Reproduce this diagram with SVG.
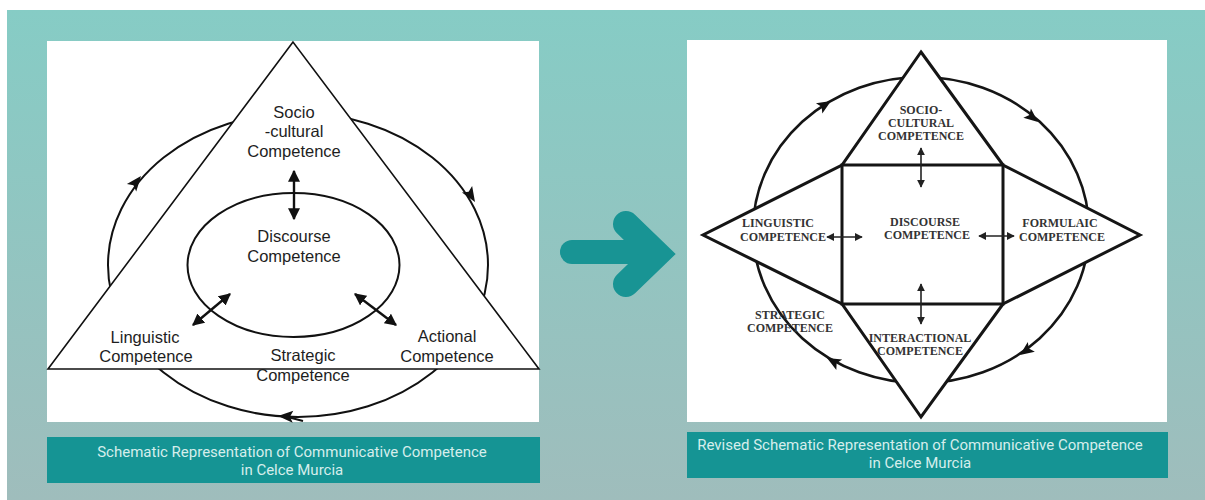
<svg xmlns="http://www.w3.org/2000/svg" width="1205" height="500" viewBox="0 0 1205 500">
  <defs>
    <linearGradient id="bg" x1="0" y1="0" x2="0" y2="1">
      <stop offset="0" stop-color="#86ccc5"/>
      <stop offset="1" stop-color="#9fbdbc"/>
    </linearGradient>
    <!-- arrowhead for the cycle loops, tip at origin pointing along +x -->
    <path id="loopHead" d="M0,0 L-15,-6 L-12,0 L-15,6 Z" fill="#111"/>
    <path id="loopHeadR" d="M0,0 L-14,-6 L-11,0 L-14,6 Z" fill="#111"/>
    <marker id="biL" viewBox="0 0 10 10" refX="9" refY="5" markerWidth="5" markerHeight="5" orient="auto-start-reverse" markerUnits="strokeWidth">
      <path d="M0,0 L10,5 L0,10 Z" fill="#111"/>
    </marker>
    <marker id="biR" viewBox="0 0 10 10" refX="9" refY="5" markerWidth="5" markerHeight="5" orient="auto-start-reverse" markerUnits="strokeWidth">
      <path d="M0,0 L10,5 L0,10 Z" fill="#222"/>
    </marker>
  </defs>
  <style>
    .panel { fill: #ffffff; }
    .cap { fill: #159494; }
    .capText { font-family: Roboto, "Liberation Sans", sans-serif; font-size: 15px; fill: #d6eeec; text-anchor: middle; }
    .lbl { font-family: "Liberation Sans", Arial, sans-serif; font-size: 16.5px; fill: #1e1e1e; text-anchor: middle; }
    .rl { font-family: "Liberation Serif", "Times New Roman", serif; font-weight: bold; font-size: 12px; fill: #333; text-anchor: middle; }
    .loop { fill: none; stroke: #111; stroke-width: 2; }
    .bi { stroke: #111; stroke-width: 2.4; marker-start: url(#biL); marker-end: url(#biL); }
    .rbi { stroke: #222; stroke-width: 1.6; marker-start: url(#biR); marker-end: url(#biR); }
    .heavy { stroke: #151515; stroke-width: 3; stroke-linejoin: miter; }
  </style>

  <!-- page background -->
  <rect x="0" y="0" width="1205" height="500" fill="#ffffff"/>
  <rect x="7" y="10" width="1198" height="490" fill="url(#bg)"/>

  <!-- ===== Left figure: original model ===== -->
  <g id="left-figure">
    <rect class="panel" x="47" y="41" width="492" height="381"/>

    <!-- outer cycle, partly hidden by the triangle -->
    <g id="left-cycle">
      <ellipse class="loop" cx="298" cy="265" rx="190" ry="152"/>
      <use href="#loopHead" transform="translate(141,176) rotate(-51)"/>
      <use href="#loopHead" transform="translate(475,202) rotate(58)"/>
      <use href="#loopHead" transform="translate(278,416) rotate(183)"/>
      <line x1="284" y1="416" x2="303" y2="421" stroke="#111" stroke-width="2"/>
    </g>

    <g id="node-sociocultural">
      <polygon points="293,42 48,369 539,369" fill="#ffffff" stroke="#111" stroke-width="1.6"/>
      <text class="lbl" x="294" y="118">Socio</text>
      <text class="lbl" x="294" y="137">-cultural</text>
      <text class="lbl" x="294" y="157">Competence</text>
    </g>

    <g id="node-discourse">
      <ellipse class="loop" cx="293.5" cy="265" rx="106" ry="72"/>
      <text class="lbl" x="294" y="242">Discourse</text>
      <text class="lbl" x="294" y="262">Competence</text>
    </g>

    <g id="node-linguistic">
      <text class="lbl" x="145" y="343">Linguistic</text>
      <text class="lbl" x="146" y="362">Competence</text>
    </g>

    <g id="node-strategic">
      <text class="lbl" x="303" y="361">Strategic</text>
      <text class="lbl" x="303" y="381">Competence</text>
    </g>

    <g id="node-actional">
      <text class="lbl" x="447" y="342">Actional</text>
      <text class="lbl" x="447" y="362">Competence</text>
    </g>

    <g id="left-connectors">
      <line class="bi" x1="193" y1="325" x2="230" y2="294"/>
      <line class="bi" x1="294" y1="171" x2="294" y2="219"/>
      <line class="bi" x1="355" y1="294" x2="396" y2="325"/>
    </g>

    <rect class="cap" x="47" y="437" width="493" height="46"/>
    <text class="capText" x="292" y="457">Schematic Representation of Communicative Competence</text>
    <text class="capText" x="292" y="475">in Celce Murcia</text>
  </g>

  <!-- ===== Transition arrow ===== -->
  <g id="transition-arrow" fill="none" stroke="#189494">
    <line x1="572" y1="252" x2="648" y2="252" stroke-width="24" stroke-linecap="round"/>
    <polyline points="626,224 657,254 626,284" stroke-width="26" stroke-linecap="round" stroke-linejoin="miter"/>
  </g>

  <!-- ===== Right figure: revised model ===== -->
  <g id="right-figure">
    <rect class="panel" x="687" y="40" width="480" height="382"/>

    <g id="right-cycle">
      <ellipse cx="921" cy="230" rx="168" ry="153" fill="none" stroke="#151515" stroke-width="2.6"/>
      <use href="#loopHeadR" transform="translate(831,101) rotate(-32)"/>
      <use href="#loopHeadR" transform="translate(1038,122) rotate(39)"/>
      <use href="#loopHeadR" transform="translate(1020,355) rotate(144)"/>
      <use href="#loopHeadR" transform="translate(827,358) rotate(209)"/>
    </g>

    <!-- star outline made of four triangles around the central square -->
    <g id="node-outline">
      <polygon class="heavy" fill="#ffffff" points="921,52 1003,165 1140,235 1003,304 921,417 842,304 703,235 842,165"/>
    </g>

    <g id="node-discourse-r">
      <rect class="heavy" x="842" y="165" width="161" height="139" fill="none"/>
      <text class="rl" x="925" y="226">DISCOURSE</text>
      <text class="rl" x="927" y="239">COMPETENCE</text>
    </g>

    <g id="node-sociocultural-r">
      <text class="rl" x="921" y="114">SOCIO-</text>
      <text class="rl" x="921" y="127">CULTURAL</text>
      <text class="rl" x="921" y="140">COMPETENCE</text>
    </g>

    <g id="node-linguistic-r">
      <text class="rl" x="778" y="227">LINGUISTIC</text>
      <text class="rl" x="783" y="241">COMPETENCE</text>
    </g>

    <g id="node-formulaic-r">
      <text class="rl" x="1060" y="227">FORMULAIC</text>
      <text class="rl" x="1062" y="241">COMPETENCE</text>
    </g>

    <g id="node-interactional-r">
      <text class="rl" x="920" y="342">INTERACTIONAL</text>
      <text class="rl" x="920" y="355">COMPETENCE</text>
    </g>

    <g id="node-strategic-r">
      <text class="rl" x="790" y="319">STRATEGIC</text>
      <text class="rl" x="790" y="332">COMPETENCE</text>
    </g>

    <g id="right-connectors">
      <line class="rbi" x1="921" y1="148" x2="921" y2="187"/>
      <line class="rbi" x1="921" y1="284" x2="921" y2="324"/>
      <line class="rbi" x1="827" y1="237" x2="862" y2="237"/>
      <line class="rbi" x1="979" y1="236" x2="1014" y2="236"/>
    </g>

    <rect class="cap" x="687" y="432" width="481" height="46"/>
    <text class="capText" x="920" y="450">Revised Schematic Representation of Communicative Competence</text>
    <text class="capText" x="920" y="468">in Celce Murcia</text>
  </g>
</svg>
